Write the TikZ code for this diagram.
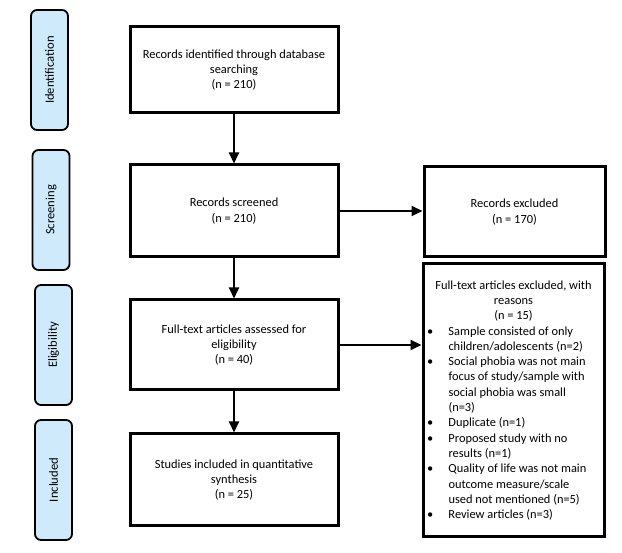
\documentclass[tikz,border=0pt]{standalone}
\usepackage{fontspec}
\setmainfont{Carlito}
\usetikzlibrary{arrows.meta}
\definecolor{sidefill}{RGB}{206,234,251}
\newcommand\bitem[1]{\par\hangindent=23pt\hangafter=1\noindent\makebox[23pt][l]{\hspace{1.5pt}\textbullet}#1}
\tikzset{
  mainbox/.style={draw, line width=3pt, minimum width=208pt, minimum height=#1, align=center, inner sep=2pt, font=\fontsize{12.4}{15.3}\selectfont},
  sidebox/.style={draw, line width=1.8pt, rounded corners=6pt, fill=sidefill, minimum width=37pt, minimum height=120pt},
  sidelabel/.style={rotate=90, font=\fontsize{12.6}{14}\selectfont},
  arr/.style={line width=2pt, -{Triangle[length=11pt,width=10pt]}}
}
\begin{document}
\begin{tikzpicture}[x=1pt,y=-1pt]
\useasboundingbox (0,0) rectangle (622,553);
% side labels
\node[sidebox] (sid) at (49.5,70) {};
\node[sidelabel] (sidt) at (sid.center) {Identification};
\node[sidebox] (sscr) at (51,210) {};
\node[sidelabel] (sscrt) at (sscr.center) {Screening};
\node[sidebox] (selg) at (53.5,345) {};
\node[sidelabel] (selgt) at (selg.center) {Eligibility};
\node[sidebox] (sinc) at (53.5,480) {};
\node[sidelabel] (sinct) at (sinc.center) {Included};
% main boxes
\node[mainbox=86pt] (b1) at (234,70) {Records identified through database\\searching\\(n = 210)};
\node[mainbox=92pt] (b2) at (234,211) {Records screened\\(n = 210)};
\node[mainbox=90pt] (b3) at (234,345) {Full-text articles assessed for\\eligibility\\(n = 40)};
\node[mainbox=92pt] (b4) at (234,480) {Studies included in quantitative\\synthesis\\(n = 25)};
\node[draw, line width=3pt, minimum width=181pt, minimum height=90pt, align=center, font=\fontsize{12.4}{15.3}\selectfont] (ex1) at (514.5,212) {Records excluded\\(n = 170)};
\node[draw, line width=3pt, minimum width=181pt, minimum height=273pt, inner sep=0pt, font=\fontsize{12.4}{15.3}\selectfont] (ex2) at (513.5,400.5) {%
\begin{minipage}{176pt}
\centering Full-text articles excluded, with\\reasons\\(n = 15)\par
\raggedright
\bitem{Sample consisted of only\newline children/adolescents (n=2)}
\bitem{Social phobia was not main\newline focus of study/sample with\newline social phobia was small\newline (n=3)}
\bitem{Duplicate (n=1)}
\bitem{Proposed study with no\newline results (n=1)}
\bitem{Quality of life was not main\newline outcome measure/scale\newline used not mentioned (n=5)}
\bitem{Review articles (n=3)}
\end{minipage}};
% arrows
\draw[arr] (b1.south) -- (b2.north);
\draw[arr] (b2.south) -- (b3.north);
\draw[arr] (b3.south) -- (b4.north);
\draw[arr] (b2.east) -- (b2.east -| ex1.west);
\draw[arr] (b3.east) -- (b3.east -| ex2.west);
\end{tikzpicture}
\end{document}
